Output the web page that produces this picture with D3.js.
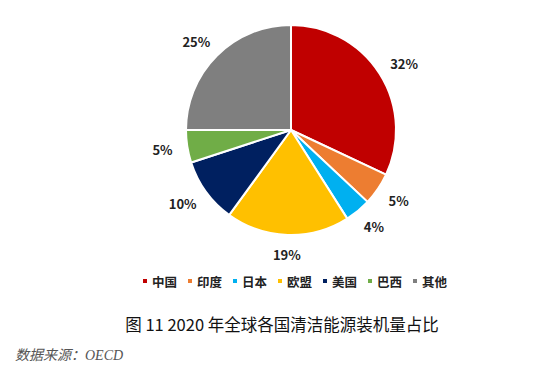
<!DOCTYPE html>
<html>
<head>
<meta charset="utf-8">
<script src="https://cdn.jsdelivr.net/npm/d3@7"></script>
<style>
  body { margin: 0; background: #fff; }
  svg { display: block; }
</style>
</head>
<body>
<div id="container"></div>
<script>
const width = 539;
const height = 372;

// chart data
const countries = ["中国", "印度", "日本", "欧盟", "美国", "巴西", "其他"];
const shares = [32, 5, 4, 19, 10, 5, 25];
const colors = ["#C00000", "#ED7D31", "#00B0F0", "#FFC000", "#002060", "#70AD47", "#7F7F7F"];

const title = "图 11 2020 年全球各国清洁能源装机量占比";
const source = "数据来源：OECD";

const cx = 291, cy = 130, radius = 105;
const labelGap = 15;

const cjk = "'Noto Sans CJK SC', 'Noto Sans', sans-serif";

const svg = d3.select("#container")
  .append("svg")
  .attr("width", width)
  .attr("height", height);

const data = countries.map((c, i) => ({ name: c, value: shares[i], color: colors[i] }));

const pie = d3.pie()
  .value(d => d.value)
  .sort(null);

const arc = d3.arc()
  .innerRadius(0)
  .outerRadius(radius);

const g = svg.append("g")
  .attr("transform", `translate(${cx},${cy})`);

const arcs = pie(data);

g.selectAll("path")
  .data(arcs)
  .join("path")
  .attr("d", arc)
  .attr("fill", d => d.data.color)
  .attr("stroke", "#fff")
  .attr("stroke-width", 2)
  .attr("stroke-linejoin", "round");

// labels placed just outside the edge, like "outside end"
const labels = g.selectAll("text.lbl")
  .data(arcs)
  .join("text")
  .attr("class", "lbl")
  .attr("font-family", cjk)
  .attr("font-weight", "bold")
  .attr("font-size", 13)
  .attr("fill", "#222")
  .attr("text-anchor", "middle")
  .attr("dominant-baseline", "central")
  .text(d => d.data.value + "%");

labels.each(function(d) {
  const a = (d.startAngle + d.endAngle) / 2;
  const w = this.getComputedTextLength();
  const h = 10;
  const r = radius + labelGap;
  const x = (r + w / 2) * Math.sin(a);
  const y = -(r + h / 2) * Math.cos(a);
  d3.select(this).attr("x", x).attr("y", y);
});

// legend
const legendX = d3.scaleBand()
  .domain(countries)
  .range([141, 141 + 45 * countries.length]);

const legend = svg.append("g")
  .selectAll("g")
  .data(data)
  .join("g")
  .attr("transform", d => `translate(${legendX(d.name)},281)`);

legend.append("rect")
  .attr("x", 2)
  .attr("y", -2)
  .attr("width", 4)
  .attr("height", 4)
  .attr("fill", d => d.color);

legend.append("text")
  .attr("x", 11)
  .attr("dominant-baseline", "central")
  .attr("font-family", cjk)
  .attr("font-weight", "bold")
  .attr("font-size", 12.5)
  .attr("fill", "#222")
  .text(d => d.name);

// title and source
svg.append("text")
  .attr("x", 282)
  .attr("y", 324)
  .attr("text-anchor", "middle")
  .attr("dominant-baseline", "central")
  .attr("font-family", cjk)
  .attr("font-size", 16.5)
  .attr("fill", "#111")
  .text(title);

svg.append("text")
  .attr("x", 15)
  .attr("y", 355)
  .attr("dominant-baseline", "central")
  .attr("font-family", "'Liberation Serif', 'Noto Sans CJK SC', serif")
  .attr("font-style", "italic")
  .attr("font-size", 14)
  .attr("fill", "#555")
  .text(source);
</script>
</body>
</html>
